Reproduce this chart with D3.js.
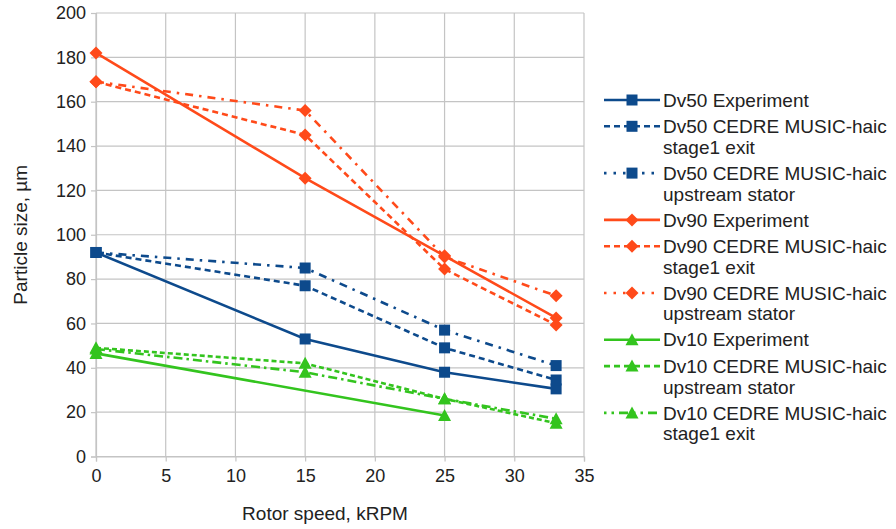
<!DOCTYPE html>
<html>
<head>
<meta charset="utf-8">
<script src="https://cdn.jsdelivr.net/npm/d3@7/dist/d3.min.js"></script>
<style>
  html, body { margin: 0; padding: 0; background: #fff; }
  text { font-family: "Liberation Sans", Arial, sans-serif; fill: #222; }
</style>
</head>
<body>
<svg id="chart" width="896" height="529"></svg>
<script>
// ---- data ----
const xTicks = [0, 5, 10, 15, 20, 25, 30, 35];
const yTicks = [0, 20, 40, 60, 80, 100, 120, 140, 160, 180, 200];

const dv50Exp      = [[0, 92], [15, 53], [25, 38], [33, 30.5]];
const dv50Stage1   = [[0, 92], [15, 77], [25, 49], [33, 34.5]];
const dv50Upstream = [[0, 92], [15, 85], [25, 57], [33, 41]];
const dv90Exp      = [[0, 182], [15, 125.5], [25, 90.5], [33, 62.5]];
const dv90Stage1   = [[0, 169], [15, 145], [25, 84.5], [33, 59.3]];
const dv90Upstream = [[0, 169], [15, 156], [25, 90], [33, 72.5]];
const dv10Exp      = [[0, 46.5], [25, 18.5]];
const dv10Upstream = [[0, 49], [15, 42], [25, 26], [33, 15]];
const dv10Stage1   = [[0, 48.5], [15, 38], [25, 26], [33, 17]];

const BLUE = "#0d4a8c", ORANGE = "#ff4a1a", GREEN = "#33c41e";

const series = [
  { name: ["Dv50 Experiment"], data: dv50Exp, color: BLUE, marker: "square", dash: null, legDash: null },
  { name: ["Dv50 CEDRE MUSIC-haic", "stage1 exit"], data: dv50Stage1, color: BLUE, marker: "square", dash: "6,4", legDash: "6,4" },
  { name: ["Dv50 CEDRE MUSIC-haic", "upstream stator"], data: dv50Upstream, color: BLUE, marker: "square", dash: "8,6,2.5,6", legDash: "2.5,7" },
  { name: ["Dv90 Experiment"], data: dv90Exp, color: ORANGE, marker: "diamond", dash: null, legDash: null },
  { name: ["Dv90 CEDRE MUSIC-haic", "stage1 exit"], data: dv90Stage1, color: ORANGE, marker: "diamond", dash: "6,4", legDash: "6,4" },
  { name: ["Dv90 CEDRE MUSIC-haic", "upstream stator"], data: dv90Upstream, color: ORANGE, marker: "diamond", dash: "8,6,2.5,6", legDash: "2.5,7" },
  { name: ["Dv10 Experiment"], data: dv10Exp, color: GREEN, marker: "triangle", dash: null, legDash: null },
  { name: ["Dv10 CEDRE MUSIC-haic", "upstream stator"], data: dv10Upstream, color: GREEN, marker: "triangle", dash: "5,3", legDash: "6,4" },
  { name: ["Dv10 CEDRE MUSIC-haic", "stage1 exit"], data: dv10Stage1, color: GREEN, marker: "triangle", dash: "9,4,2.5,4", legDash: "2.5,5,2.5,5,9,5" }
];

// ---- layout ----
const svg = d3.select("#chart");
const L = 96, R = 584, T = 13, B = 456.5;
const x = d3.scaleLinear().domain([0, 35]).range([L, R]);
const y = d3.scaleLinear().domain([0, 200]).range([B, T]);

// grid
const grid = svg.append("g");
grid.selectAll("line.v").data(xTicks).enter().append("line")
  .attr("x1", d => x(d)).attr("x2", d => x(d)).attr("y1", T).attr("y2", B)
  .attr("stroke", "#c4c4c4").attr("stroke-width", 1.2);
grid.selectAll("line.h").data(yTicks).enter().append("line")
  .attr("x1", L).attr("x2", R).attr("y1", d => y(d)).attr("y2", d => y(d))
  .attr("stroke", "#c4c4c4").attr("stroke-width", 1.2);

// axes
const xAxis = d3.axisBottom(x).tickValues(xTicks).tickSize(5).tickPadding(4);
const yAxis = d3.axisLeft(y).tickValues(yTicks).tickSize(5).tickPadding(5);
const gx = svg.append("g").attr("transform", `translate(0,${B})`).call(xAxis);
const gy = svg.append("g").attr("transform", `translate(${L},0)`).call(yAxis);
[gx, gy].forEach(g => {
  g.select(".domain").attr("stroke", "#c4c4c4").attr("stroke-width", 1.2);
  g.selectAll(".tick line").attr("stroke", "#c4c4c4").attr("stroke-width", 1.2);
  g.selectAll(".tick text").style("font-family", "Liberation Sans, Arial, sans-serif")
    .style("font-size", "18px").attr("fill", "#222");
});
gx.selectAll(".tick text").attr("dy", "0.9em");

// axis titles
svg.append("text").attr("x", (L + R) / 2 - 15).attr("y", 520).attr("text-anchor", "middle")
  .style("font-size", "19px").text("Rotor speed, kRPM");
svg.append("text").attr("transform", `translate(27,${(T + B) / 2}) rotate(-90)`)
  .attr("text-anchor", "middle").style("font-size", "19px").text("Particle size, µm");

// markers
function drawMarker(g, type, cx, cy, color) {
  if (type === "square") {
    g.append("rect").attr("x", cx - 5.5).attr("y", cy - 5.5).attr("width", 11).attr("height", 11).attr("fill", color);
  } else if (type === "diamond") {
    g.append("path").attr("d", `M${cx},${cy - 6.5}L${cx + 6.5},${cy}L${cx},${cy + 6.5}L${cx - 6.5},${cy}Z`).attr("fill", color);
  } else {
    g.append("path").attr("d", `M${cx},${cy - 6.5}L${cx + 6.5},${cy + 5.5}L${cx - 6.5},${cy + 5.5}Z`).attr("fill", color);
  }
}

const line = d3.line().x(d => x(d[0])).y(d => y(d[1]));
const plot = svg.append("g");
series.forEach(s => {
  plot.append("path").datum(s.data).attr("d", line).attr("fill", "none")
    .attr("stroke", s.color).attr("stroke-width", 2.6)
    .attr("stroke-dasharray", s.dash);
});
series.forEach(s => {
  s.data.forEach(d => drawMarker(plot, s.marker, x(d[0]), y(d[1]), s.color));
});

// legend
const leg = svg.append("g");
let ly = 100;
series.forEach(s => {
  leg.append("line").attr("x1", 604).attr("x2", 660).attr("y1", ly).attr("y2", ly)
    .attr("stroke", s.color).attr("stroke-width", 2.6).attr("stroke-dasharray", s.legDash);
  drawMarker(leg, s.marker, 632, ly, s.color);
  s.name.forEach((t, i) => {
    leg.append("text").attr("x", 663).attr("y", ly + i * 20.8).attr("dy", "0.35em")
      .style("font-size", "19px").text(t);
  });
  ly += s.name.length === 1 ? 26.3 : 46.8;
});
</script>
</body>
</html>
